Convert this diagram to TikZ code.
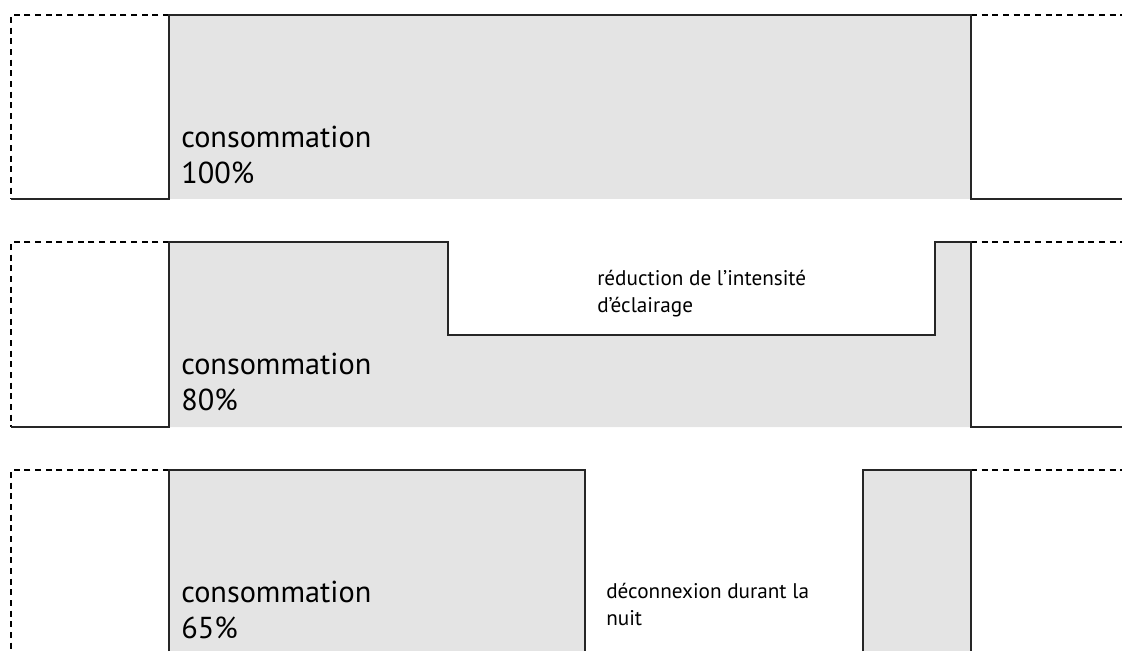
\documentclass[tikz,border=0pt]{standalone}
\usepackage{fontspec}
\setmainfont{PT Sans}
\usepackage{tikz}
\usepackage{xcolor}
\definecolor{areagrey}{HTML}{E4E4E4}

\begin{document}
\begin{tikzpicture}[x=0.75pt,y=-0.75pt,
	signal line/.style = {draw=black!85, line width=1.5pt, line join=miter},
	dash line/.style = {draw=black, line width=1pt, dash pattern=on 4.5pt off 3.5pt},
	grey area/.style = {fill=areagrey, draw=none},
	big label/.style = {anchor=base west, inner sep=0pt, font=\fontsize{22.7}{26}\selectfont, text=black},
	small label/.style = {anchor=base west, inner sep=0pt, font=\fontsize{15.9}{19}\selectfont, text=black}]
	\useasboundingbox (0,0) rectangle (1122,651);
	% 100%
	\fill[grey area] (169,15) rectangle (971,199);
	\draw[dash line] (169,15) -- (11,15) -- (11,199);
	\draw[dash line] (971,15) -- (1122,15);
	\draw[signal line] (11,199) -- (169,199) -- (169,15) -- (971,15) -- (971,199) -- (1122,199);
	\node[big label] (conso1) at (181,147) {consommation};
	\node[big label] (pct1) at (181,183) {100\%};
	% 80%
	\fill[grey area] (169,242) -- (448,242) -- (448,335) -- (935,335) -- (935,242) -- (971,242) -- (971,427) -- (169,427) -- cycle;
	\draw[dash line] (169,242) -- (11,242) -- (11,427);
	\draw[dash line] (971,242) -- (1122,242);
	\draw[signal line] (11,427) -- (169,427) -- (169,242) -- (448,242) -- (448,335) -- (935,335) -- (935,242) -- (971,242) -- (971,427) -- (1122,427);
	\node[big label] (conso2) at (181,374) {consommation};
	\node[big label] (pct2) at (181,410) {80\%};
	\node[small label] (dim1) at (597,285) {réduction de l’intensité};
	\node[small label] (dim2) at (597,312) {d’éclairage};
	% 65%
	\fill[grey area] (169,470) rectangle (585,651);
	\fill[grey area] (863,470) rectangle (971,651);
	\draw[dash line] (169,470) -- (11,470) -- (11,651);
	\draw[dash line] (971,470) -- (1122,470);
	\draw[signal line] (169,651) -- (169,470) -- (585,470) -- (585,651);
	\draw[signal line] (863,651) -- (863,470) -- (971,470) -- (971,651);
	\node[big label] (conso3) at (181,602) {consommation};
	\node[big label] (pct3) at (181,638) {65\%};
	\node[small label] (off1) at (606,598) {déconnexion durant la};
	\node[small label] (off2) at (606,625) {nuit};
\end{tikzpicture}
\end{document}
